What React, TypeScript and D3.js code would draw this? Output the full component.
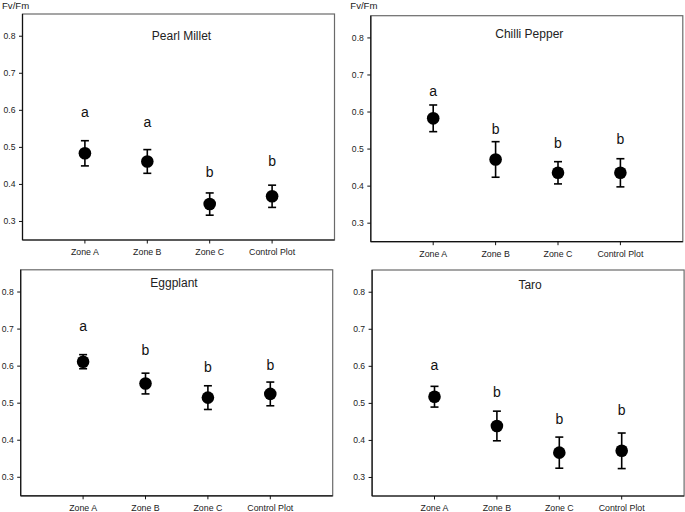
import * as d3 from 'd3';
import * as React from 'react';

const width = 685;
const height = 512;
const font = "'Liberation Sans', Arial, sans-serif";

const categories = ['Zone A', 'Zone B', 'Zone C', 'Control Plot'];
const crops = ['Pearl Millet', 'Chilli Pepper', 'Eggplant', 'Taro'];
const yTicks = [0.3, 0.4, 0.5, 0.6, 0.7, 0.8];

// mean Fv/Fm per crop, one value per zone
const pearlMean = [0.484, 0.462, 0.347, 0.368];
const chilliMean = [0.583, 0.472, 0.436, 0.436];
const eggplantMean = [0.612, 0.553, 0.515, 0.525];
const taroMean = [0.518, 0.439, 0.367, 0.372];

// error bar half-lengths
const pearlErr = [0.034, 0.032, 0.03, 0.03];
const chilliErr = [0.036, 0.048, 0.03, 0.038];
const eggplantErr = [0.019, 0.028, 0.032, 0.032];
const taroErr = [0.028, 0.04, 0.042, 0.048];

// significance letters and where they sit (in Fv/Fm units)
const pearlLetters = ['a', 'a', 'b', 'b'];
const otherLetters = ['a', 'b', 'b', 'b'];
const pearlLetterY = [0.595, 0.567, 0.432, 0.462];
const chilliLetterY = [0.657, 0.553, 0.516, 0.526];
const eggplantLetterY = [0.707, 0.642, 0.597, 0.604];
const taroLetterY = [0.603, 0.53, 0.458, 0.481];

const series = [
  { mean: pearlMean, err: pearlErr, letters: pearlLetters, letterY: pearlLetterY },
  { mean: chilliMean, err: chilliErr, letters: otherLetters, letterY: chilliLetterY },
  { mean: eggplantMean, err: eggplantErr, letters: otherLetters, letterY: eggplantLetterY },
  { mean: taroMean, err: taroErr, letters: otherLetters, letterY: taroLetterY },
];

// panel placement on the page
const plotW = 312;
const plotH = 226;
const layout = [
  { left: 22.5, top: 14, titleDx: 3, titleDy: 22, yLabel: true },
  { left: 370.8, top: 15.7, titleDx: 2.5, titleDy: 18, yLabel: true },
  { left: 20.7, top: 269.8, titleDx: -2.7, titleDy: 13.5, yLabel: false },
  { left: 372.1, top: 270, titleDx: 2, titleDy: 14.3, yLabel: false },
];

const Panel = ({ i }: { i: number }) => {
  const L = layout[i];
  const s = series[i];
  const x = d3.scaleLinear().domain([0, 5]).range([0, plotW]);
  const y = d3.scaleLinear().domain([0.25, 0.86]).range([plotH, 0]);

  return (
    <g transform={`translate(${L.left},${L.top})`} fontFamily={font}>
      <rect x={0} y={0} width={plotW} height={plotH} fill="none" stroke="#6a6a6a" strokeWidth={1.2} />
      <line x1={0} x2={0} y1={0} y2={plotH} stroke="#111" strokeWidth={1.2} />
      <line x1={0} x2={plotW} y1={plotH} y2={plotH} stroke="#111" strokeWidth={1.2} />

      {yTicks.map(t => (
        <g key={t} transform={`translate(0,${y(t)})`}>
          <line x1={-3.5} x2={0} stroke="#111" />
          <text x={-7} dy="0.35em" textAnchor="end" fontSize={8.6} fill="#222">
            {d3.format('.1f')(t)}
          </text>
        </g>
      ))}

      {categories.map((c, k) => (
        <g key={c} transform={`translate(${x(k + 1)},${plotH})`}>
          <line y1={0} y2={3.5} stroke="#111" />
          <text y={12} dy="0.35em" textAnchor="middle" fontSize={8.8} fill="#222">
            {c}
          </text>
        </g>
      ))}

      <text x={plotW / 2 + L.titleDx} y={L.titleDy} dy="0.35em" textAnchor="middle" fontSize={12} fill="#222">
        {crops[i]}
      </text>

      {L.yLabel && (
        <text x={-20.5} y={-L.top + 6} dy="0.35em" fontSize={9.6} fill="#222">
          Fv/Fm
        </text>
      )}

      {s.mean.map((m, k) => {
        const cx = x(k + 1);
        const hi = y(m + s.err[k]);
        const lo = y(m - s.err[k]);
        return (
          <g key={k}>
            <line x1={cx} x2={cx} y1={hi} y2={lo} stroke="#000" strokeWidth={1.6} />
            <line x1={cx - 4} x2={cx + 4} y1={hi} y2={hi} stroke="#000" strokeWidth={1.6} />
            <line x1={cx - 4} x2={cx + 4} y1={lo} y2={lo} stroke="#000" strokeWidth={1.6} />
            <circle cx={cx} cy={y(m)} r={6.3} fill="#000" />
            <text x={cx} y={y(s.letterY[k])} dy="0.35em" textAnchor="middle" fontSize={14} fill="#111">
              {s.letters[k]}
            </text>
          </g>
        );
      })}
    </g>
  );
};

export default () => (
  <svg
    width={width}
    height={height}
    style={{ position: 'absolute', left: 0, top: 0, background: '#fff' }}
  >
    {crops.map((c, i) => (
      <Panel key={c} i={i} />
    ))}
  </svg>
);
